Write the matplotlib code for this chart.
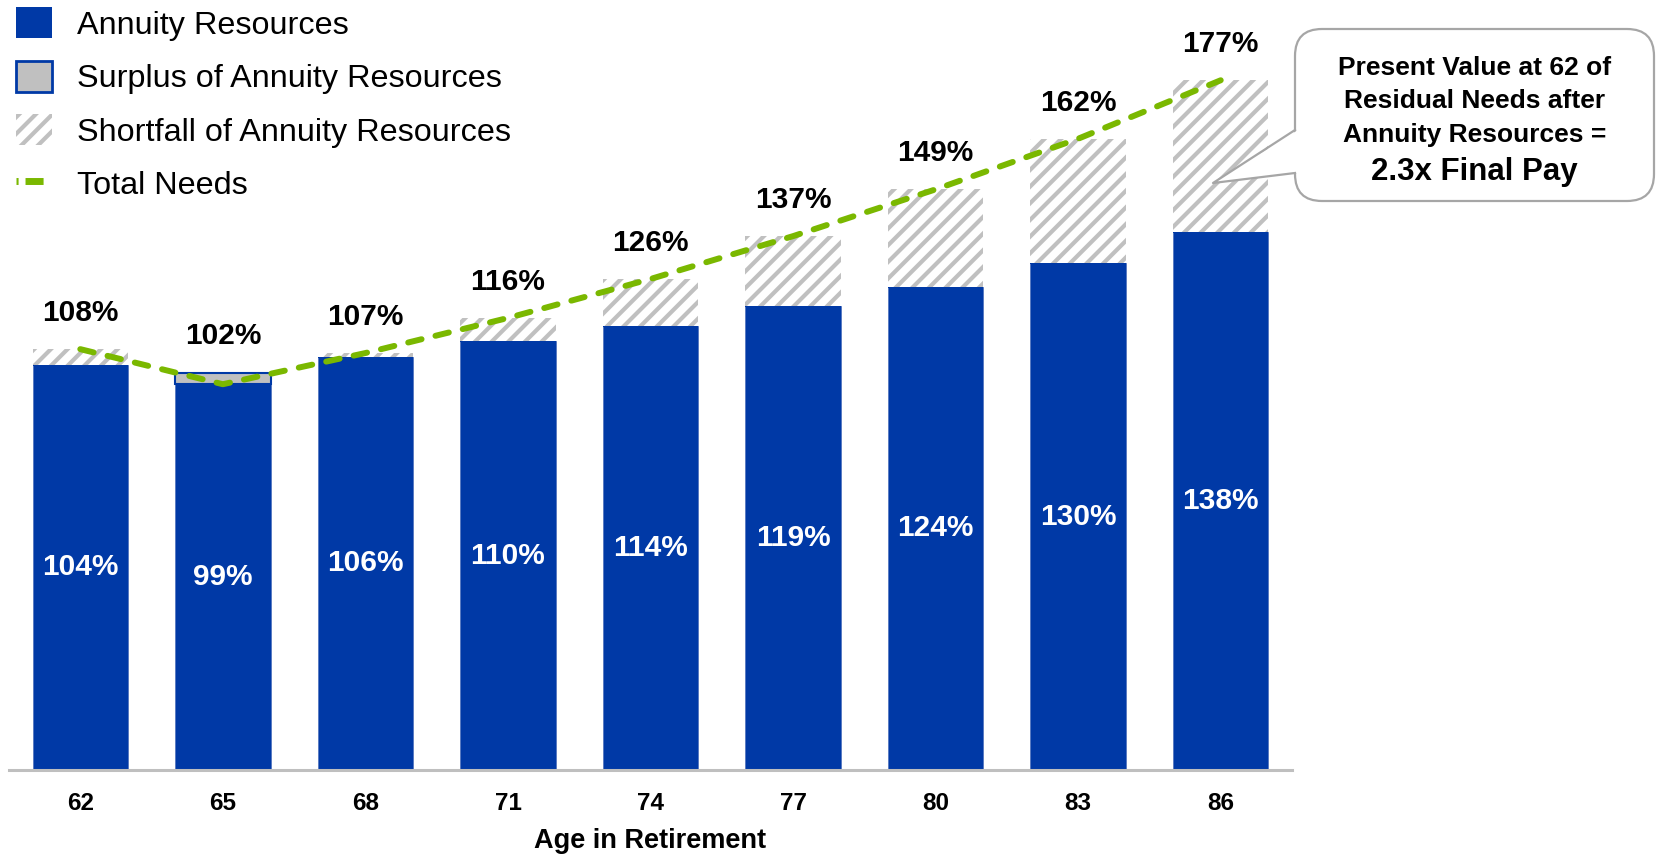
import matplotlib
matplotlib.use("Agg")
import matplotlib.pyplot as plt
from matplotlib.patches import Patch, FancyBboxPatch, Polygon
from matplotlib.lines import Line2D
import numpy as np

plt.rcParams['font.family'] = ['Liberation Sans', 'DejaVu Sans']
plt.rcParams['hatch.linewidth'] = 3.0

ages = ["62", "65", "68", "71", "74", "77", "80", "83", "86"]
annuity = [104, 102, 106, 110, 114, 119, 124, 130, 138]
needs = [108, 99, 107, 116, 126, 137, 149, 162, 177]

BLUE = "#0039A6"
GRAY = "#c0c0c0"
GREEN = "#7AB800"

annuity = np.array(annuity)
needs = np.array(needs)
covered = np.minimum(annuity, needs)
surplus = np.clip(annuity - needs, 0, None)
shortfall = np.clip(needs - annuity, 0, None)
top = np.maximum(annuity, needs)

W, H = 1657, 855
fig = plt.figure(figsize=(W / 100, H / 100), dpi=100)
ax = fig.add_axes([9 / W, 85 / H, 1283 / W, 740.4 / H])
x = np.arange(len(ages))
bw = 0.67

ax.bar(x, covered, bw, color=BLUE, edgecolor="#5577c0", linewidth=0.6, zorder=2)
ax.bar(x, surplus, bw, bottom=covered, color=GRAY, edgecolor=BLUE, linewidth=1.5, zorder=2)
ax.bar(x, shortfall, bw, bottom=covered, color="white", edgecolor=GRAY, linewidth=0,
       hatch="//", zorder=2)

line, = ax.plot(x, needs, color=GREEN, lw=4.3, zorder=4)
line.set_dashes((2.3, 2.4))
line.set_dash_capstyle("round")

for i in range(len(ages)):
    ax.text(x[i], covered[i] / 2, f"{covered[i]}%", ha="center", va="center",
            color="white", fontsize=21.5, fontweight="bold", zorder=5)
    ax.annotate(f"{top[i]}%", (x[i], top[i]), xytext=(0, 26), textcoords="offset points",
                ha="center", va="center", fontsize=21.5, fontweight="bold", zorder=5)

ax.set_xlim(-0.5, len(ages) - 0.5)
ax.set_ylim(0, 190)
ax.set_xticks(x)
ax.set_xticklabels(ages, fontsize=17.5, fontweight="bold")
ax.tick_params(axis="x", length=0, pad=16)
ax.set_yticks([])
for s in ["top", "left", "right"]:
    ax.spines[s].set_visible(False)
ax.spines["bottom"].set_color("#bfbfbf")
ax.spines["bottom"].set_linewidth(2.2)
ax.spines["bottom"].set_zorder(3)
ax.set_xlabel("Age in Retirement", fontsize=19.5, fontweight="bold", labelpad=9)

handles = [
    Patch(facecolor=BLUE, edgecolor=BLUE, linewidth=0),
    Patch(facecolor=GRAY, edgecolor=BLUE, linewidth=2),
    Patch(facecolor="white", edgecolor=GRAY, linewidth=0, hatch="//"),
    Line2D([0], [0], color=GREEN, lw=5, dashes=(0.3, 1, 2.6, 2)),
]
labels = ["Annuity Resources", "Surplus of Annuity Resources",
          "Shortfall of Annuity Resources", "Total Needs"]
fig.legend(handles, labels, loc="upper left", bbox_to_anchor=(16 / W, 1 - 7 / H),
           frameon=False, fontsize=23.3, handlelength=1.1, handleheight=1.1,
           handletextpad=0.8, labelspacing=0.62, borderpad=0, borderaxespad=0)

# callout box drawn on an overlay in pixel units
ov = fig.add_axes([0, 0, 1, 1])
ov.set_xlim(0, W)
ov.set_ylim(0, H)
ov.axis("off")
bx0, bx1, by0, by1 = 1295, 1654, 29, 201
box = FancyBboxPatch((bx0, H - by1), bx1 - bx0, by1 - by0,
                     boxstyle="round,pad=0,rounding_size=27",
                     facecolor="white", edgecolor="#a6a6a6", linewidth=1.6, zorder=1)
ov.add_patch(box)
tip = (1213, H - 183)
p1 = (bx0, H - 130)
p2 = (bx0, H - 173)
ov.add_patch(Polygon([(bx0 + 3, p1[1]), tip, (bx0 + 3, p2[1])], closed=True,
                     facecolor="white", edgecolor="none", zorder=2))
ov.plot([p1[0], tip[0], p2[0]], [p1[1], tip[1], p2[1]], color="#a6a6a6", lw=1.6, zorder=3)
cx = (bx0 + bx1) / 2
for txt, yy in [("Present Value at 62 of", 68), ("Residual Needs after", 101),
                ("Annuity Resources =", 135)]:
    ov.text(cx, H - yy, txt, ha="center", va="center", fontsize=19, fontweight="bold", zorder=4)
ov.text(cx, H - 172, "2.3x Final Pay", ha="center", va="center", fontsize=22.5,
        fontweight="bold", zorder=4)

fig.savefig("out.png", dpi=100)
